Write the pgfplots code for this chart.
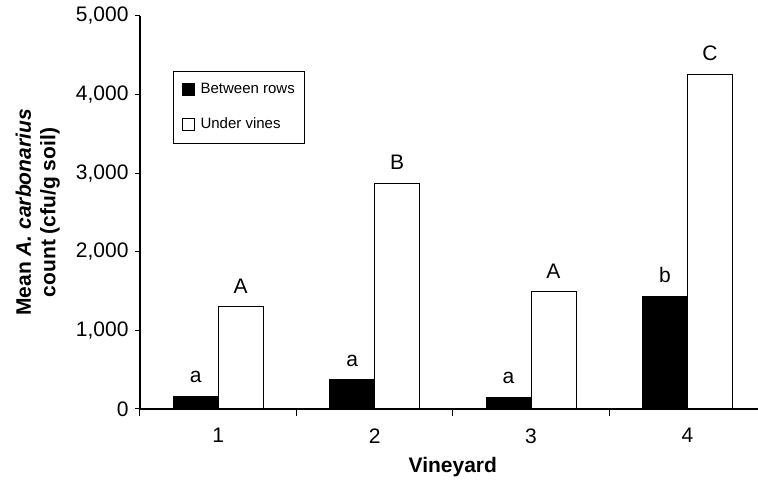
\documentclass[border=0pt]{standalone}
\usepackage{fontspec}
\setmainfont{Liberation Sans}
\usepackage{pgfplots}
\pgfplotsset{compat=1.18}
\begin{document}
\begin{tikzpicture}
\useasboundingbox (-140pt,-72pt) rectangle (618pt,409pt);
\clip (-140pt,-72pt) rectangle (618pt,409pt);
\begin{axis}[
  at={(0pt,0pt)}, anchor=south west,
  scale only axis, width=625.6pt, height=393pt,
  xmin=0.5, xmax=4.5, ymin=0, ymax=5000,
  axis lines*=left,
  axis line style={line width=1.1pt},
  ybar=0pt, bar width=45pt,
  ytick={0,1000,2000,3000,4000,5000},
  xtick={1,2,3,4},
  minor xtick={0.5,1.5,2.5,3.5,4.5},
  tick align=outside,
  xtick pos=bottom, ytick pos=left,
  major tick length=5pt, minor tick length=7pt,
  major x tick style={draw=none},
  tick style={black, line width=1pt},
  /pgf/number format/1000 sep={,},
  /pgf/number format/assume math mode=true,
  ticklabel style={font=\fontsize{21}{25}\selectfont},
  yticklabel style={xshift=-3pt},
  xticklabel style={yshift=-11pt},
  xlabel={Vineyard},
  xlabel style={font=\bfseries\fontsize{21}{25}\selectfont, at={(axis description cs:0.5,0)}, anchor=base, yshift=-64pt},
  ylabel={Mean \textit{A. carbonarius}\\count (cfu/g soil)},
  ylabel style={font=\bfseries\fontsize{21}{24.5}\selectfont, align=center, at={(axis description cs:-0.128,0.5)}, anchor=south, inner sep=0pt},
  legend image code/.code={\draw[#1, line width=1pt] (0pt,-6pt) rectangle (12pt,6pt); \path (16pt,0pt);},
  legend style={at={(axis description cs:0.0527,0.861)}, anchor=north west,
    draw=black, line width=1.2pt, inner xsep=8pt, inner ysep=9.5pt, row sep=17pt,
    font=\fontsize{15}{18}\selectfont,
    nodes={inner sep=2pt, text height=11pt, text depth=3pt}},
  legend cell align=left,
  nodes near coords,
  point meta=explicit symbolic,
  every node near coord/.append style={font=\fontsize{21}{25}\selectfont, anchor=south, inner sep=0pt, yshift=13pt, black},
]
\addplot[fill=black, draw=black, line width=1pt] coordinates {(1,165) [a] (2,370) [a] (3,150) [a] (4,1430) [b]};
\addplot[fill=white, draw=black, line width=1pt] coordinates {(1,1300) [A] (2,2870) [B] (3,1490) [A] (4,4255) [C]};
\legend{Between rows, Under vines}
\end{axis}
\end{tikzpicture}
\end{document}
